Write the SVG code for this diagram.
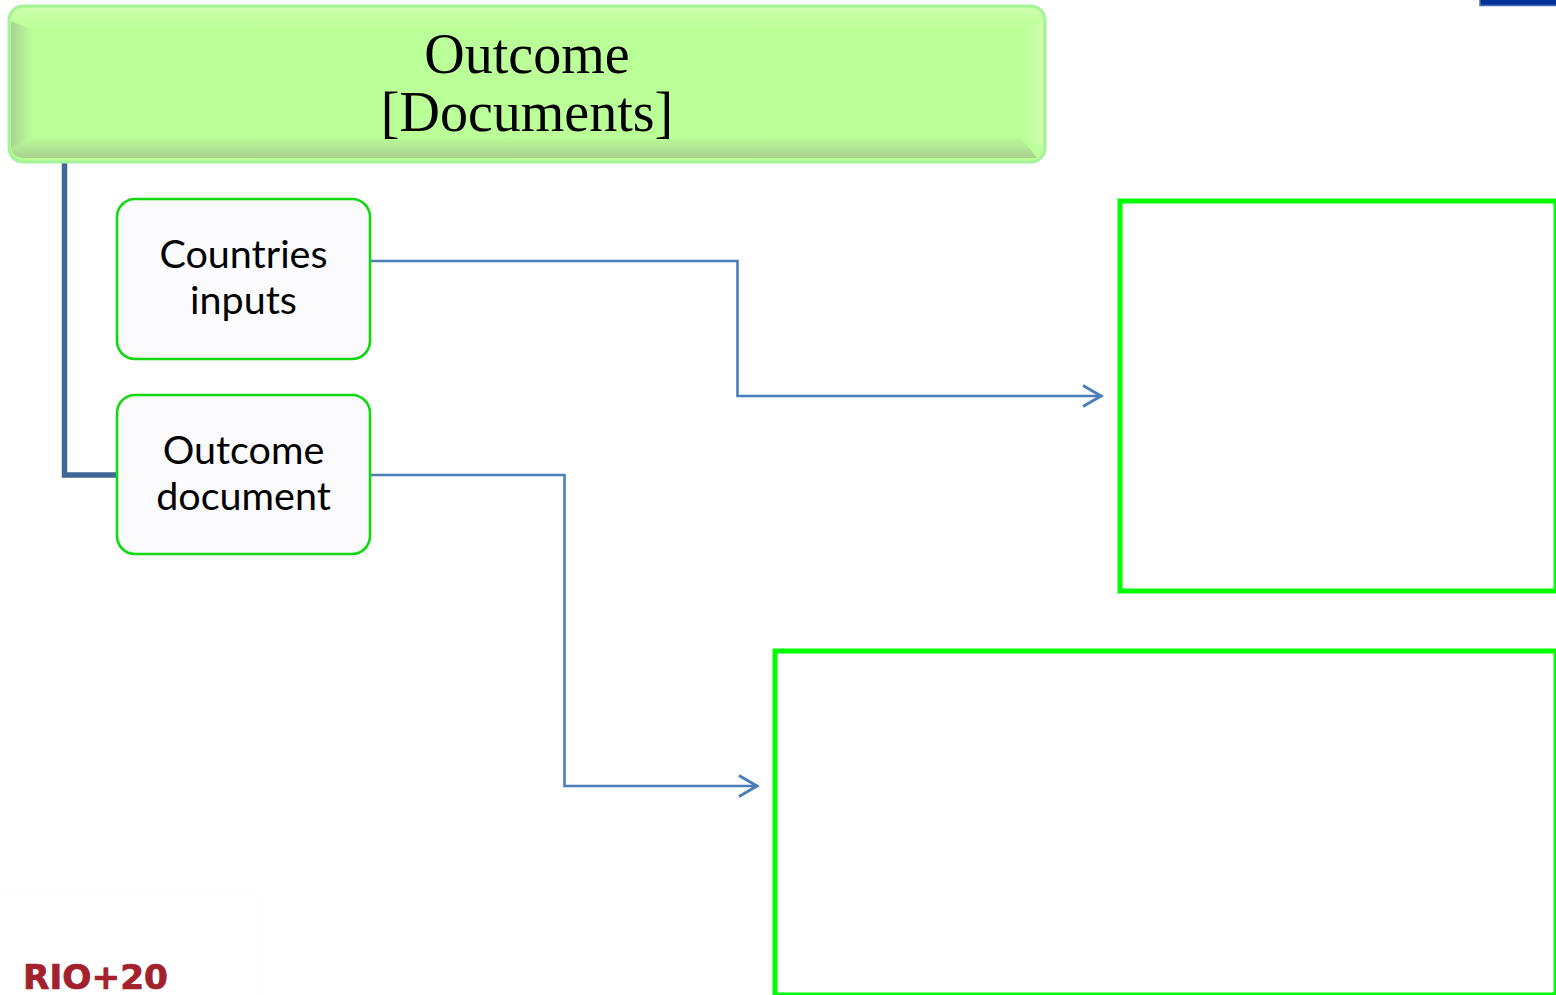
<svg xmlns="http://www.w3.org/2000/svg" width="1556" height="995" viewBox="0 0 1556 995">
<defs>
<linearGradient id="bt" gradientUnits="userSpaceOnUse" x1="0" y1="8" x2="0" y2="30"><stop offset="0" stop-color="#ccffac"/><stop offset="1" stop-color="#baff98"/></linearGradient>
<linearGradient id="bb" gradientUnits="userSpaceOnUse" x1="0" y1="158" x2="0" y2="136"><stop offset="0" stop-color="#a9d08e"/><stop offset="1" stop-color="#baff98"/></linearGradient>
<linearGradient id="bl" gradientUnits="userSpaceOnUse" x1="11" y1="0" x2="33" y2="0"><stop offset="0" stop-color="#a9d490"/><stop offset="1" stop-color="#baff98"/></linearGradient>
<linearGradient id="br" gradientUnits="userSpaceOnUse" x1="1043" y1="0" x2="1021" y2="0"><stop offset="0" stop-color="#ccffac"/><stop offset="1" stop-color="#baff98"/></linearGradient>
<marker id="arr" markerUnits="userSpaceOnUse" markerWidth="24" markerHeight="26" refX="21" refY="13" orient="auto"><path d="M2 2.500 L20 13 L2 23.500" fill="none" stroke="#4a7ebb" stroke-width="3"/></marker>
</defs>
<style>
.nd{fill:#fbfbfe;stroke:#12d812;stroke-width:2.600}
.t{font-family:"Lato","Open Sans",sans-serif;font-size:39.500px;text-anchor:middle;fill:#000}
.h{font-family:"Liberation Serif",serif;font-size:56px;text-anchor:middle;fill:#000}
.c{fill:none;stroke:#4a7ebb;stroke-width:2.600}
.g{fill:none;stroke:#00ff00;stroke-width:5}
</style>
<rect width="1556" height="995" fill="#fff"/>
<path d="M0 895H261V995" fill="none" stroke="#fdfdfa" stroke-width="2"/>
<g id="connectors">
<path d="M64.500 160V475H118" fill="none" stroke="#3f6797" stroke-width="5.500"/>
<path class="c" d="M370 261H737.500V396H1102" marker-end="url(#arr)"/>
<path class="c" d="M370 475H564.500V786H758" marker-end="url(#arr)"/>
</g>
<g id="header">
<rect x="9" y="6" width="1036" height="156" rx="14" fill="#baff98" stroke="#a4f39a" stroke-width="3"/>
<path d="M11 21Q11 9 23 8H1030Q1042 9 1043 21L1021 30H33Z" fill="url(#bt)"/>
<path d="M11 21L33 30V138L11 148Z" fill="url(#bl)"/>
<path d="M1043 21L1021 30V138L1043 148Z" fill="url(#br)"/>
<path d="M11 148L33 138H1021L1037 158H23Q12 157 11 148Z" fill="url(#bb)"/>
<text class="h" x="527" y="73">Outcome</text>
<text class="h" x="527" y="131">[Documents]</text>
</g>
<g id="countries-inputs">
<rect class="nd" x="117" y="199" width="253" height="160" rx="18"/>
<text class="t" x="243.500" y="268">Countries</text>
<text class="t" x="243.500" y="314">inputs</text>
</g>
<g id="outcome-document">
<rect class="nd" x="117" y="395" width="253" height="159" rx="18"/>
<text class="t" x="243.500" y="464">Outcome</text>
<text class="t" x="243.500" y="510">document</text>
</g>
<g id="box-top"><rect class="g" x="1120" y="201" width="436" height="390"/></g>
<g id="box-bottom"><rect class="g" x="775" y="651" width="781" height="344"/></g>
<rect id="corner" x="1480" y="-2" width="78" height="7.500" fill="#00309a" stroke="#3f6fb5" stroke-width="1.500"/>
<text id="logo" x="23" y="989" font-family="'DejaVu Sans',sans-serif" font-size="33" font-weight="700" fill="#a3212c" stroke="#a3212c" stroke-width="0.700" textLength="145" lengthAdjust="spacingAndGlyphs">RIO+20</text>
</svg>
